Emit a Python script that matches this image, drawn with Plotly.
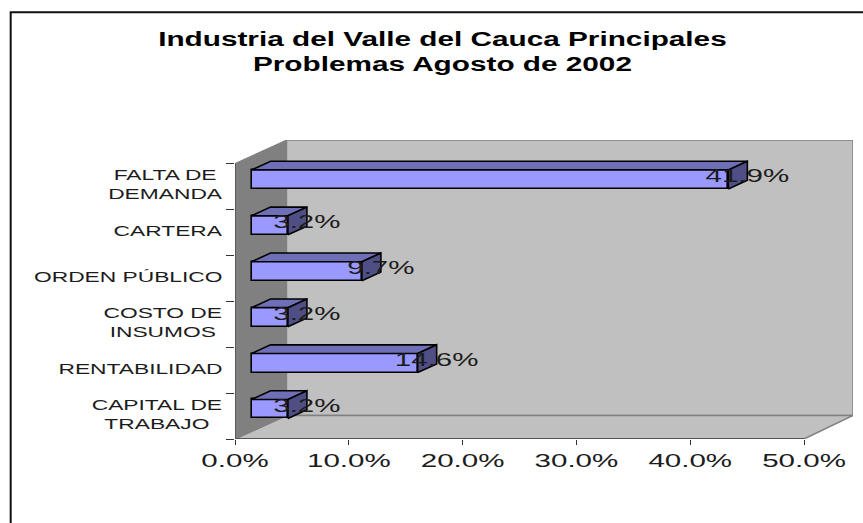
import plotly.graph_objects as go

categories = ["CAPITAL DE<br>TRABAJO", "RENTABILIDAD", "COSTO DE<br>INSUMOS",
              "ORDEN PÚBLICO", "CARTERA", "FALTA DE<br>DEMANDA"]
values = [3.2, 14.6, 3.2, 9.7, 3.2, 41.9]
value_labels = ["3.2%", "14.6%", "3.2%", "9.7%", "3.2%", "41.9%"]
x_ticks = [0, 10, 20, 30, 40, 50]
x_tick_labels = ["0.0%", "10.0%", "20.0%", "30.0%", "40.0%", "50.0%"]
title_lines = "Industria del Valle del Cauca Principales<br>Problemas Agosto de 2002"

W, H = 863, 523
PX_L, PX_R, PX_T, PX_B = 234.5, 853.0, 140.0, 438.7
X_MAX = 50.0
Y_BANDS = 6
PX_X50 = 804.0
x_range_max = X_MAX * (PX_R - PX_L) / (PX_X50 - PX_L)
PX_TOP_BAND = 163.5
y_range_max = Y_BANDS * (PX_B - PX_T) / (PX_B - PX_TOP_BAND)

# oblique depth of the plot box, in data units
DEPTH_X = x_range_max - X_MAX
DEPTH_X_LEFT = DEPTH_X * 51.5 / 49.0   # the back wall's left edge sits slightly further in
DEPTH_Y = y_range_max - Y_BANDS
BAR_START_X = 0.337
BAR_START_Y = 0.30
BAR_DEPTH_X = 0.388
BAR_DEPTH_Y = 0.37
BAR_H = 0.414

WALL = "#c0c0c0"
SIDE_WALL = "#808080"
EDGE = "#808080"
FRONT = "#9999ff"
TOP = "#6f6fb8"
SIDE = "#4f4f85"
TEXT = "#1c1c1c"


def poly(pts, fill, line, width=1.0):
    path = "M " + " L ".join(f"{x},{y}" for x, y in pts) + " Z"
    return dict(type="path", path=path, xref="x", yref="y", layer="below",
                fillcolor=fill, line=dict(color=line, width=width))


shapes = [
    poly([(DEPTH_X_LEFT, DEPTH_Y), (x_range_max, DEPTH_Y), (x_range_max, y_range_max), (DEPTH_X_LEFT, y_range_max)], WALL, EDGE, 1.5),
    poly([(0, 0), (DEPTH_X_LEFT, DEPTH_Y), (x_range_max, DEPTH_Y), (X_MAX, 0)], WALL, EDGE, 1.5),
    poly([(0, 0), (DEPTH_X_LEFT, DEPTH_Y), (DEPTH_X_LEFT, y_range_max), (0, Y_BANDS)], SIDE_WALL, SIDE_WALL, 1),
    dict(type="line", xref="x", yref="y", x0=0, x1=0, y0=0, y1=Y_BANDS, layer="below",
         line=dict(color="#404040", width=1.2)),
    dict(type="line", xref="x", yref="y", x0=0, x1=X_MAX, y0=0, y1=0, layer="below",
         line=dict(color="#404040", width=1.5)),
    # chart frame
    dict(type="path", xref="paper", yref="paper", layer="above",
         path=f"M {(10 - PX_L) / (PX_R - PX_L)},{(PX_B - 523) / (PX_B - PX_T)} "
              f"L {(10 - PX_L) / (PX_R - PX_L)},{(PX_B - 12.5) / (PX_B - PX_T)} "
              f"L {(863 - PX_L) / (PX_R - PX_L)},{(PX_B - 12.5) / (PX_B - PX_T)}",
         line=dict(color="#111111", width=2)),
]

centers = [i + 0.5 for i in range(len(values))]
x0 = BAR_START_X * DEPTH_X
y_off = BAR_START_Y * DEPTH_Y
dx = BAR_DEPTH_X * DEPTH_X
dy = BAR_DEPTH_Y * DEPTH_Y

fig = go.Figure()
fig.add_trace(go.Bar(
    orientation="h", x=values, base=[x0] * len(values),
    y=[c + y_off for c in centers], width=BAR_H,
    marker=dict(color=FRONT, line=dict(color="#000000", width=1.6)),
    showlegend=False, hoverinfo="skip",
))

for c, v in zip(centers, values):
    y0 = c + y_off - BAR_H / 2
    y1 = c + y_off + BAR_H / 2
    xe = x0 + v
    fig.add_trace(go.Scatter(
        x=[x0, xe, xe + dx, x0 + dx, x0], y=[y1, y1, y1 + dy, y1 + dy, y1],
        mode="lines", fill="toself", fillcolor=TOP,
        line=dict(color="#000000", width=1.6), showlegend=False, hoverinfo="skip"))
    fig.add_trace(go.Scatter(
        x=[xe, xe + dx, xe + dx, xe, xe], y=[y0, y0 + dy, y1 + dy, y1, y0],
        mode="lines", fill="toself", fillcolor=SIDE,
        line=dict(color="#000000", width=1.6), showlegend=False, hoverinfo="skip"))

fig.add_trace(go.Scatter(
    x=[x0 + v + dx for v in values],
    y=[c + 0.32 * DEPTH_Y + dy / 2 + BAR_H / 2 - 0.27 for c in centers],
    mode="text", text=value_labels, textposition="middle center",
    textfont=dict(family="Liberation Sans", size=18, color=TEXT),
    showlegend=False, hoverinfo="skip", cliponaxis=False))

annotations = [
    dict(text=t, xref="paper", yref="y", x=(222.5 - PX_L) / (PX_R - PX_L), y=c, yshift=1.5,
         xanchor="right", yanchor="middle", align="center", showarrow=False,
         font=dict(family="Liberation Sans", size=14.5, color=TEXT))
    for t, c in zip(categories, centers)
]
annotations.append(dict(
    text=title_lines, xref="paper", yref="paper",
    x=(442.5 - PX_L) / (PX_R - PX_L), y=(PX_B - 52) / (PX_B - PX_T),
    xanchor="center", yanchor="middle", align="center", showarrow=False,
    font=dict(family="Liberation Sans", size=19.5, color="#000000", weight="bold")))

fig.update_layout(
    width=W, height=H, autosize=False,
    margin=dict(l=PX_L, r=W - PX_R, t=PX_T, b=H - PX_B, pad=0),
    paper_bgcolor="#ffffff", plot_bgcolor="#ffffff",
    bargap=0, showlegend=False, shapes=shapes, annotations=annotations,
    xaxis=dict(range=[0, x_range_max], tickmode="array", tickvals=x_ticks, ticktext=x_tick_labels,
               ticks="outside", ticklen=5, tickcolor="#333333", tickwidth=1, showgrid=False,
               zeroline=False, showline=False, fixedrange=True,
               tickfont=dict(family="Liberation Sans", size=18, color=TEXT)),
    yaxis=dict(range=[0, y_range_max], tickmode="array", tickvals=list(range(Y_BANDS + 1)),
               ticktext=[""] * (Y_BANDS + 1), ticks="outside", ticklen=8, tickcolor="#333333",
               tickwidth=1, showgrid=False, zeroline=False, showline=False, fixedrange=True),
)

# The reference is a horizontally stretched picture: widen the text glyphs the same way.
post = """
document.body.style.margin = '0';
document.documentElement.style.overflow = 'hidden';
var gd = document.getElementById('{plot_id}');
function widen(el, k) {
  el.setAttribute('textLength', el.getComputedTextLength() * k);
  el.setAttribute('lengthAdjust', 'spacingAndGlyphs');
}
gd.querySelectorAll('.xtick text').forEach(function (t) { widen(t, 1.64); });
gd.querySelectorAll('.textpoint text').forEach(function (t) { widen(t, 1.64); });
gd.querySelectorAll('.annotation-text').forEach(function (t) {
  var bold = t.style.fontWeight === '700' || t.style.fontWeight === 'bold';
  var k = bold ? 1.525 : 1.57;
  var lines = t.querySelectorAll('tspan.line');
  if (lines.length) { lines.forEach(function (l) { widen(l, k); }); } else { widen(t, k); }
  if (!bold) {
    var shift = 222.5 - t.getBoundingClientRect().right;
    t.setAttribute('transform', 'translate(' + shift + ',0)');
  }
});
"""
fig.write_html("out.html", post_script=post, config={"displayModeBar": False})
